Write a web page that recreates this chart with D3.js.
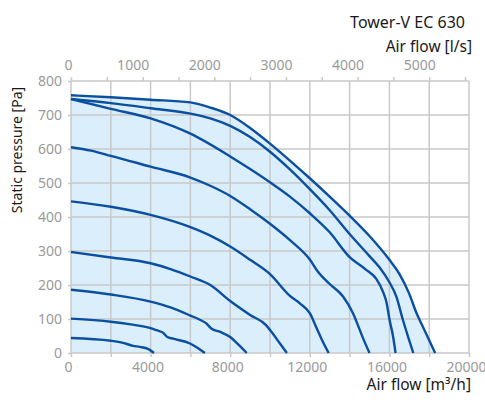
<!DOCTYPE html>
<html><head><meta charset="utf-8">
<script src="https://cdn.jsdelivr.net/npm/d3@7"></script>
<style>
html,body{margin:0;padding:0;background:#fff;}
svg text{font-family:"Noto Sans","Open Sans",sans-serif;}
</style>
</head><body>
<svg id="chart" width="485" height="405"></svg>
<script>
// ---- data (air flow m³/h, static pressure Pa) ----
const curve1 = [[0,758],[2000,752],[4000,745],[6000,737],[7000,722],[8000,700],[9000,662],[10000,616],[11000,566],[12000,514],[13000,460],[14000,404],[15000,344],[16000,274],[16500,233],[17000,174],[17350,119],[17700,75],[18300,0]];
const curve2 = [[0,747],[2000,735],[4000,720],[6000,704],[7000,690],[8000,668],[9000,635],[10000,592],[11000,540],[12000,482],[13000,420],[14000,350],[15000,285],[15500,252],[16000,208],[16350,166],[16680,97],[16900,55],[17200,0]];
const curve3 = [[0,747],[2000,718],[4000,690],[6000,645],[8000,578],[9000,541],[10000,502],[11000,460],[12000,411],[13000,355],[14000,282],[14800,246],[15350,217],[15680,180],[15850,150],[16010,97],[16180,50],[16310,0]];
const curve4 = [[0,605],[1000,595],[2000,580],[4000,548],[6000,516],[7000,492],[8000,462],[9000,423],[10000,380],[11000,332],[12000,275],[12400,240],[13000,203],[13670,166],[14170,117],[14510,68],[14700,40],[15000,0]];
const curve5 = [[0,446],[2000,430],[4000,406],[6000,370],[7000,345],[8000,313],[9000,274],[10000,232],[11000,168],[11500,146],[12000,117],[12330,75],[12600,40],[12950,0]];
const curve6 = [[0,297],[2000,281],[4000,264],[5000,247],[6000,225],[7000,200],[8000,153],[9000,112],[9800,82],[10100,60],[10500,28],[10850,0]];
const curve7 = [[0,186],[2000,172],[4000,151],[5000,134],[6000,110],[6500,97],[6800,87],[7050,72],[7500,62],[8000,47],[8350,28],[8830,0]];
const curve8 = [[0,101],[2000,92],[3000,84],[4000,73],[4300,67],[4620,60],[4820,48],[5140,42],[5980,28],[6390,14],[6730,0]];
const curve9 = [[0,44],[2000,36],[2610,30],[3120,21],[3460,18],[3870,12],[4170,0]];
const curves = [curve1,curve2,curve3,curve4,curve5,curve6,curve7,curve8,curve9];

const bottomTicks = [0,4000,8000,12000,16000,20000];
const topTicks = [0,1000,2000,3000,4000,5000];
const yTicks = [0,100,200,300,400,500,600,700,800];

const title = "Tower-V EC 630";
const topTitle = "Air flow [l/s]";
const bottomTitle = "Air flow [m³/h]";
const yTitle = "Static pressure [Pa]";

// ---- layout ----
const L = 71, R = 469, T = 81, B = 353;
const svg = d3.select("#chart");
const x = d3.scaleLinear().domain([0,20000]).range([L,R]);
const xTop = d3.scaleLinear().domain([0,20000/3.6]).range([L,R]);
const y = d3.scaleLinear().domain([0,800]).range([B,T]);

const gridColor = "#c9c9c9";
const tickColor = "#9a9a9a";
const lineColor = "#0b4fa1";
const fillColor = "#daeefb";

// fill under envelope
const area = d3.area().x(d=>x(d[0])).y0(y(0)).y1(d=>y(d[1])).curve(d3.curveMonotoneX);
svg.append("path").datum(curve1).attr("d",area).attr("fill",fillColor);

// grid
const gx = d3.range(0,20001,2000);
svg.append("g").selectAll("line").data(gx).join("line")
  .attr("x1",d=>x(d)).attr("x2",d=>x(d)).attr("y1",T).attr("y2",B)
  .attr("stroke",gridColor).attr("stroke-width",1.5);
svg.append("g").selectAll("line").data(yTicks).join("line")
  .attr("x1",L).attr("x2",R).attr("y1",d=>y(d)).attr("y2",d=>y(d))
  .attr("stroke",gridColor).attr("stroke-width",1.5);

// axes
const bottomAxis = d3.axisBottom(x).tickValues(gx).tickSize(4)
  .tickFormat(d=>bottomTicks.includes(d)?d:"");
const gb = svg.append("g").attr("transform",`translate(0,${B})`).call(bottomAxis);
const topAxis = d3.axisTop(xTop).tickValues(d3.range(0,5501,500)).tickSize(4)
  .tickFormat(d=>topTicks.includes(d)?d:"");
const gt = svg.append("g").attr("transform",`translate(0,${T})`).call(topAxis);
const leftAxis = d3.axisLeft(y).tickValues(yTicks).tickSize(3);
const gl = svg.append("g").attr("transform",`translate(${L},0)`).call(leftAxis);

[gb,gt,gl].forEach(g=>{
  g.select(".domain").remove();
  g.selectAll(".tick line").attr("stroke",gridColor).attr("stroke-width",1.5);
  g.selectAll(".tick text").attr("fill",tickColor).style("font-size","14px");
});
gb.selectAll(".tick text").attr("dx","-3").attr("dy","0.85em");
gt.selectAll(".tick text").attr("dx",d=>d===0?-3:-10).attr("dy","-0.3em");
gl.selectAll(".tick text").attr("dx","-3");

// curves
const line = d3.line().x(d=>x(d[0])).y(d=>y(d[1])).curve(d3.curveMonotoneX);
svg.append("g").selectAll("path").data(curves).join("path")
  .attr("d",line).attr("fill","none").attr("stroke",lineColor)
  .attr("stroke-width",2.4).attr("stroke-linejoin","round");

// titles
svg.append("text").attr("x",465).attr("y",28).attr("text-anchor","end")
  .style("font-size","16px").attr("fill","#1a1a1a").text(title);
svg.append("text").attr("x",472).attr("y",52).attr("text-anchor","end")
  .style("font-size","15.5px").attr("fill","#1a1a1a").text(topTitle);
svg.append("text").attr("x",471).attr("y",390).attr("text-anchor","end")
  .style("font-size","15.5px").attr("fill","#1a1a1a").text(bottomTitle);
svg.append("text").attr("transform","translate(22,150) rotate(-90)")
  .attr("text-anchor","middle").style("font-size","14px").attr("fill","#1a1a1a").text(yTitle);
</script>
</body></html>
